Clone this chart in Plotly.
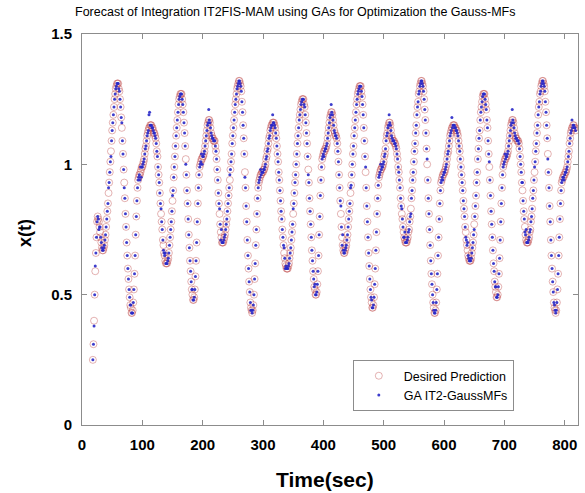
import plotly.graph_objects as go

# ---- data (time step = 1 s) ----
cycle_starts = [18, 83, 185, 282, 388, 482, 585, 688, 785]

cycle_0 = [0.25, 0.31, 0.40, 0.50, 0.59, 0.66, 0.72, 0.78, 0.80,
           0.79, 0.78, 0.76, 0.74, 0.72, 0.70, 0.68, 0.67,
           0.67, 0.68, 0.69, 0.71, 0.73, 0.76, 0.79, 0.82, 0.85, 0.89, 0.93, 0.97, 1.01, 1.05, 1.09,
           1.13, 1.16, 1.19, 1.22, 1.25, 1.27, 1.29, 1.30, 1.31, 1.31,
           1.31, 1.29, 1.28, 1.25, 1.22, 1.18, 1.14, 1.09, 1.04, 0.98, 0.93, 0.87, 0.81, 0.76, 0.70,
           0.65, 0.60, 0.56, 0.52, 0.49, 0.46, 0.45, 0.43]

cycle_1 = [0.43,
           0.44, 0.47, 0.52, 0.58, 0.65, 0.73, 0.80, 0.86, 0.91, 0.94, 0.95,
           0.96, 0.96, 0.97, 0.98, 0.99,
           0.99, 1.00, 1.01, 1.02, 1.04, 1.06, 1.07, 1.09, 1.11, 1.12, 1.13, 1.14, 1.14,
           1.15, 1.15, 1.15, 1.14, 1.14, 1.13, 1.12,
           1.12, 1.11, 1.10, 1.08, 1.05, 1.03, 0.99, 0.96, 0.93, 0.89, 0.85, 0.81, 0.78, 0.75, 0.71,
           0.69, 0.66, 0.65, 0.63, 0.62, 0.62,
           0.62, 0.63, 0.64, 0.66, 0.69, 0.72, 0.75, 0.78, 0.82, 0.86, 0.90, 0.95, 0.99, 1.03, 1.07,
           1.11, 1.14, 1.17, 1.20, 1.23, 1.25, 1.26, 1.27, 1.27,
           1.27, 1.25, 1.23, 1.20, 1.16, 1.12, 1.07, 1.02, 0.96, 0.90, 0.85, 0.79, 0.73, 0.68, 0.63,
           0.59, 0.55, 0.52, 0.50, 0.48]

cycle_2 = [0.48,
           0.49, 0.52, 0.57, 0.63, 0.70, 0.78, 0.85, 0.91, 0.96, 0.99, 1.00,
           1.01, 1.02, 1.02, 1.03,
           1.03, 1.04, 1.05, 1.07, 1.09, 1.11, 1.13, 1.15, 1.16, 1.17, 1.17,
           1.16, 1.14, 1.12, 1.11, 1.10, 1.10, 1.09, 1.09,
           1.09, 1.07, 1.05, 1.02, 0.98, 0.94, 0.89, 0.85, 0.81, 0.77, 0.74, 0.72, 0.70, 0.70,
           0.70, 0.71, 0.72, 0.73, 0.75, 0.77, 0.79, 0.82, 0.85, 0.88, 0.91, 0.94, 0.98, 1.01,
           1.04, 1.08, 1.11, 1.14, 1.17, 1.20, 1.23, 1.25, 1.27, 1.29, 1.30, 1.31, 1.32, 1.32,
           1.31, 1.30, 1.28, 1.24, 1.20, 1.15, 1.10, 1.04, 0.97, 0.91, 0.84, 0.78, 0.71, 0.65,
           0.60, 0.55, 0.51, 0.47, 0.45, 0.44]

cycle_3 = [0.43,
           0.44, 0.46, 0.50, 0.56, 0.62, 0.69, 0.75, 0.81, 0.87, 0.91, 0.93, 0.94,
           0.95, 0.96, 0.96, 0.97, 0.97,
           0.97, 0.98, 0.98, 0.99, 1.00, 1.02, 1.03, 1.05, 1.06, 1.08, 1.10, 1.11, 1.13, 1.14,
           1.15, 1.15, 1.16, 1.16,
           1.16, 1.15, 1.14, 1.12, 1.10, 1.07, 1.04, 1.01, 0.97, 0.94, 0.90, 0.86, 0.82, 0.79,
           0.75, 0.72, 0.69, 0.66, 0.64, 0.62, 0.61, 0.60, 0.60,
           0.60, 0.61, 0.62, 0.64, 0.66, 0.68, 0.71, 0.74, 0.77, 0.81, 0.85, 0.89, 0.93, 0.96,
           1.00, 1.04, 1.08, 1.11, 1.14, 1.17, 1.19, 1.21, 1.23, 1.24, 1.25, 1.25,
           1.25, 1.23, 1.22, 1.19, 1.16, 1.12, 1.08, 1.03, 0.98, 0.93, 0.87, 0.82, 0.77, 0.72,
           0.67, 0.63, 0.59, 0.56, 0.53, 0.52, 0.50]

cycle_4 = [0.50,
           0.51, 0.54, 0.59, 0.65, 0.73, 0.80, 0.88, 0.94, 0.99, 1.02, 1.03,
           1.04, 1.05, 1.05, 1.06,
           1.06, 1.07, 1.08, 1.10, 1.12, 1.14, 1.16, 1.18, 1.19, 1.20, 1.20,
           1.19, 1.17, 1.15, 1.13, 1.12, 1.11, 1.11,
           1.10, 1.08, 1.05, 1.01, 0.96, 0.91, 0.86, 0.81, 0.76, 0.72, 0.69, 0.67, 0.66,
           0.66, 0.67, 0.68, 0.69, 0.71, 0.73, 0.76, 0.79, 0.82, 0.85, 0.89, 0.92, 0.96, 1.00,
           1.04, 1.07, 1.11, 1.14, 1.17, 1.20, 1.23, 1.25, 1.27, 1.28, 1.29, 1.30, 1.30,
           1.30, 1.28, 1.26, 1.23, 1.19, 1.14, 1.09, 1.03, 0.97, 0.91, 0.84, 0.78, 0.72, 0.66,
           0.61, 0.56, 0.52, 0.49, 0.47, 0.45]

cycle_5 = [0.45,
           0.46, 0.49, 0.54, 0.60, 0.67, 0.74, 0.81, 0.87, 0.92, 0.95, 0.96,
           0.97, 0.98, 0.98, 0.99,
           0.99, 1.00, 1.01, 1.03, 1.04, 1.06, 1.09, 1.11, 1.12, 1.14, 1.15, 1.16, 1.16,
           1.15, 1.13, 1.11, 1.10, 1.09, 1.09, 1.09, 1.08,
           1.08, 1.07, 1.06, 1.04, 1.02, 0.99, 0.97, 0.94, 0.91, 0.87, 0.84, 0.81, 0.79, 0.76,
           0.74, 0.72, 0.71, 0.70, 0.70,
           0.70, 0.71, 0.72, 0.74, 0.75, 0.78, 0.80, 0.83, 0.87, 0.90, 0.94, 0.97, 1.01, 1.05,
           1.08, 1.12, 1.15, 1.19, 1.22, 1.24, 1.27, 1.28, 1.30, 1.31, 1.32, 1.32,
           1.31, 1.30, 1.28, 1.25, 1.21, 1.17, 1.12, 1.06, 1.00, 0.94, 0.87, 0.81, 0.75, 0.69,
           0.63, 0.58, 0.54, 0.50, 0.47, 0.45, 0.43]

cycle_6 = [0.43,
           0.44, 0.47, 0.52, 0.58, 0.65, 0.72, 0.79, 0.85, 0.90, 0.93, 0.94,
           0.95, 0.96, 0.96, 0.97,
           0.97, 0.98, 0.99, 1.00, 1.02, 1.04, 1.05, 1.07, 1.09, 1.11, 1.12, 1.13, 1.14, 1.14,
           1.15, 1.15, 1.15, 1.14, 1.14, 1.13,
           1.13, 1.12, 1.11, 1.09, 1.07, 1.05, 1.02, 0.99, 0.96, 0.93, 0.90, 0.86, 0.83, 0.80,
           0.76, 0.74, 0.71, 0.69, 0.67, 0.65, 0.64, 0.63, 0.63,
           0.63, 0.64, 0.66, 0.68, 0.70, 0.73, 0.77, 0.80, 0.84, 0.88, 0.93, 0.97, 1.02, 1.06,
           1.10, 1.13, 1.17, 1.20, 1.22, 1.24, 1.26, 1.27, 1.27,
           1.27, 1.25, 1.23, 1.21, 1.17, 1.14, 1.09, 1.04, 0.99, 0.94, 0.88, 0.82, 0.77, 0.72,
           0.67, 0.62, 0.59, 0.55, 0.53, 0.51, 0.49]

cycle_7 = [0.49,
           0.50, 0.53, 0.58, 0.64, 0.71, 0.78, 0.85, 0.91, 0.96, 0.99, 1.00,
           1.01, 1.02, 1.02, 1.03,
           1.03, 1.04, 1.05, 1.07, 1.09, 1.11, 1.13, 1.15, 1.16, 1.17, 1.17,
           1.16, 1.14, 1.12, 1.11, 1.10, 1.10, 1.09, 1.09,
           1.09, 1.08, 1.06, 1.03, 1.00, 0.97, 0.93, 0.90, 0.86, 0.82, 0.79, 0.76, 0.73, 0.71,
           0.70, 0.70,
           0.70, 0.71, 0.72, 0.74, 0.75, 0.78, 0.80, 0.83, 0.87, 0.90, 0.94, 0.97, 1.01, 1.05,
           1.08, 1.12, 1.15, 1.19, 1.22, 1.24, 1.27, 1.28, 1.30, 1.31, 1.32, 1.32,
           1.31, 1.30, 1.28, 1.24, 1.20, 1.15, 1.10, 1.04, 0.97, 0.91, 0.84, 0.78, 0.71, 0.65,
           0.60, 0.55, 0.51, 0.47, 0.45, 0.44]

cycle_8 = [0.43,
           0.44, 0.47, 0.52, 0.58, 0.65, 0.72, 0.79, 0.85, 0.90, 0.93, 0.94,
           0.95, 0.95, 0.96, 0.96, 0.97,
           0.97, 0.98, 0.99, 1.01, 1.03, 1.05, 1.08, 1.10, 1.12, 1.13, 1.14, 1.14,
           1.15, 1.15, 1.14, 1.14, 1.13]

desired_cycles = [cycle_0, cycle_1, cycle_2, cycle_3, cycle_4,
                  cycle_5, cycle_6, cycle_7, cycle_8]

# deviations of the GA IT2-GaussMFs forecast from the desired output (time -> error)
prediction_offsets = {
    20: -0.02, 22: 0.02, 28: -0.03, 30: 0.02, 44: 0.02, 48: -0.02, 66: 0.02, 70: -0.02,
    81: 0.01, 84: -0.01, 96: -0.02, 97: 0.02, 98: -0.03, 111: 0.05, 112: 0.06, 131: 0.02,
    135: -0.02, 138: 0.03, 150: 0.02, 172: -0.02, 183: 0.02, 198: 0.02, 199: -0.02,
    210: 0.04, 228: 0.02, 230: -0.03, 231: 0.03, 245: 0.02, 270: -0.02, 280: -0.01,
    296: 0.02, 316: 0.03, 335: 0.02, 337: -0.02, 350: 0.02, 375: -0.02, 386: 0.02,
    401: -0.02, 413: 0.03, 429: 0.03, 431: -0.03, 432: 0.04, 445: 0.02, 470: 0.02,
    480: 0.01, 495: 0.02, 509: 0.03, 530: 0.02, 533: -0.02, 535: 0.03, 545: -0.02,
    572: 0.02, 583: -0.01, 598: -0.02, 613: 0.04, 636: -0.02, 639: 0.03, 650: -0.02,
    675: 0.02, 686: 0.02, 701: 0.02, 713: 0.04, 730: 0.03, 734: -0.02, 736: 0.04,
    750: 0.02, 772: -0.02, 783: 0.01, 799: -0.02, 812: 0.03,
}

x_tick_values = [0, 100, 200, 300, 400, 500, 600, 700, 800]
y_tick_values = [0, 0.5, 1, 1.5]
y_tick_labels = ["0", "0.5", "1", "1.5"]

time, desired = [], []
for start, values in zip(cycle_starts, desired_cycles):
    for i, v in enumerate(values):
        time.append(start + i)
        desired.append(v)
predicted = [v + prediction_offsets.get(t, 0.0) for t, v in zip(time, desired)]

FONT = "Liberation Sans, Arial, sans-serif"
CIRCLE = "rgba(190,75,75,0.42)"

fig = go.Figure()
fig.add_trace(go.Scatter(
    x=time, y=desired, mode="markers", name="Desired Prediction",
    marker=dict(symbol="circle-open", size=7, color=CIRCLE,
                line=dict(width=1, color=CIRCLE)),
))
fig.add_trace(go.Scatter(
    x=time, y=predicted, mode="markers", name="GA IT2-GaussMFs",
    marker=dict(symbol="circle", size=3, color="rgba(40,40,200,0.9)"),
))

axis_common = dict(
    showline=True, linecolor="#8c8c8c", linewidth=1, mirror="ticks",
    ticks="inside", ticklen=5, tickcolor="#8c8c8c", showgrid=False, zeroline=False,
    automargin=False, ticklabeloverflow="allow",
    tickfont=dict(family=FONT, size=15, color="black", weight="bold"),
)

fig.update_layout(
    width=585, height=493,
    margin=dict(l=82, r=7, t=34, b=68),
    paper_bgcolor="white", plot_bgcolor="white",
    xaxis=dict(range=[0, 822], tickvals=x_tick_values, ticklabelstandoff=6, **axis_common),
    yaxis=dict(range=[0, 1.5], tickvals=y_tick_values, ticktext=y_tick_labels,
               ticklabelstandoff=6, **axis_common),
    legend=dict(x=0.546, y=0.166, xanchor="left", yanchor="top",
                bgcolor="white", bordercolor="#8c8c8c", borderwidth=1,
                font=dict(family=FONT, size=12.5, color="black"),
                itemwidth=40, tracegroupgap=0),
    showlegend=True,
    annotations=[
        dict(text="Forecast of Integration IT2FIS-MAM using GAs for Optimization the Gauss-MFs",
             xref="paper", yref="paper", x=0.4294, y=1.055, xanchor="center", yanchor="middle",
             showarrow=False, font=dict(family=FONT, size=12.5, color="black")),
        dict(text="Time(sec)", xref="paper", yref="paper", x=0.49, y=-0.140,
             xanchor="center", yanchor="middle", showarrow=False,
             font=dict(family=FONT, size=21, color="black", weight="bold")),
        dict(text="x(t)", xref="paper", yref="paper", x=-0.115, y=0.491, textangle=-90,
             xanchor="center", yanchor="middle", showarrow=False,
             font=dict(family=FONT, size=18, color="black", weight="bold")),
    ],
)

fig.write_html("out.html", config={"displayModeBar": False},
               post_script="document.body.style.margin='0px';")
